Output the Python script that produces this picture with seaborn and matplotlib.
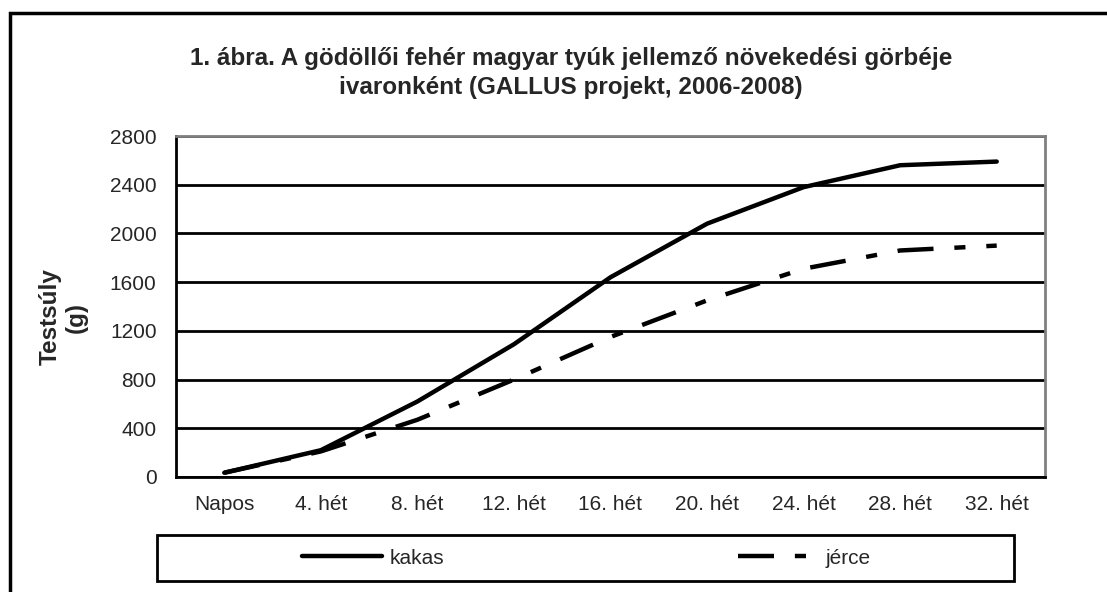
import numpy as np
import pandas as pd
import matplotlib
matplotlib.use("Agg")
import matplotlib.pyplot as plt
import seaborn as sns
from matplotlib.patches import Rectangle
from matplotlib.lines import Line2D

# -------------------------
# Adatok
# -------------------------
kategoriak = ["Napos", "4. hét", "8. hét", "12. hét", "16. hét",
              "20. hét", "24. hét", "28. hét", "32. hét"]
kakas = [35, 220, 620, 1090, 1640, 2080, 2380, 2560, 2590]
jerce = [35, 210, 470, 800, 1150, 1450, 1710, 1860, 1900]
y_ticks = [0, 400, 800, 1200, 1600, 2000, 2400, 2800]

cim = ("1. ábra. A gödöllői fehér magyar tyúk jellemző növekedési görbéje\n"
       "ivaronként (GALLUS projekt, 2006-2008)")

df = pd.DataFrame({
    "poz": list(range(len(kategoriak))) * 2,
    "suly": kakas + jerce,
    "ivar": ["kakas"] * len(kakas) + ["jérce"] * len(jerce),
})

sns.set_style("white")
plt.rcParams["font.family"] = ["Liberation Sans", "DejaVu Sans"]

fig = plt.figure(figsize=(11.07, 5.92), dpi=100)
ax = fig.add_axes([176 / 1107, 1 - 477 / 592, (1045 - 176) / 1107, (477 - 136) / 592])

szaggatott = (8.1, 4.7, 2.5, 4.7)
sns.lineplot(data=df, x="poz", y="suly", hue="ivar", style="ivar",
             palette={"kakas": "black", "jérce": "black"},
             dashes={"kakas": "", "jérce": szaggatott},
             linewidth=3.2, legend=False, ax=ax)
for ln in ax.lines:
    ln.set_solid_capstyle("round")
    ln.set_solid_joinstyle("round")
    ln.set_dash_capstyle("butt")

# tengelyek
ax.set_xlim(-0.5, len(kategoriak) - 0.5)
ax.set_ylim(0, 2800)
ax.set_yticks(y_ticks)
ax.set_yticklabels([str(v) for v in y_ticks], fontsize=15)
ax.set_xticks(range(len(kategoriak)))
ax.set_xticklabels(kategoriak, fontsize=15)
ax.set_xticks(np.arange(-0.5, len(kategoriak)), minor=True)
ax.tick_params(axis="x", which="major", length=0, pad=13)
ax.tick_params(axis="x", which="minor", length=6, width=2, direction="out", color="black")
ax.tick_params(axis="y", length=6, width=2, direction="out", color="black", pad=8)
ax.set_xlabel("")
ax.set_ylabel("")

ax.yaxis.grid(True, color="black", linewidth=2)
ax.set_axisbelow(True)

for s in ["left", "bottom"]:
    ax.spines[s].set_color("black")
    ax.spines[s].set_linewidth(2)
for s in ["top", "right"]:
    ax.spines[s].set_color("#808080")
    ax.spines[s].set_linewidth(2)

# cím és tengelyfelirat
fig.text(571 / 1107, 1 - 73 / 592, cim, ha="center", va="center",
         fontsize=17.5, fontweight="bold", linespacing=1.3)
fig.text(63 / 1107, 1 - 317 / 592, "Testsúly\n(g)", ha="center", va="center",
         rotation=90, fontsize=17.5, fontweight="bold", linespacing=1.15)

# jelmagyarázat
fig.patches.append(Rectangle((157 / 1107, 1 - 581 / 592), (1014 - 157) / 1107, 46 / 592,
                             transform=fig.transFigure, fill=False,
                             edgecolor="black", linewidth=2))
kezelok = [Line2D([], [], color="black", linewidth=3.2, solid_capstyle="round"),
           Line2D([], [], color="black", linewidth=3.2, dashes=szaggatott)]
fig.legend(kezelok, ["kakas", "jérce"], loc="center",
           bbox_to_anchor=(586 / 1107, 1 - 558 / 592), ncol=2, frameon=False,
           fontsize=15, handlelength=3.85, handletextpad=0.35, columnspacing=14.1)

# külső keret
fig.patches.append(Rectangle((10 / 1107, -0.1), 1.2, 1.1 - 13 / 592,
                             transform=fig.transFigure, fill=False,
                             edgecolor="black", linewidth=2.5))

fig.savefig("out.png", dpi=100)
